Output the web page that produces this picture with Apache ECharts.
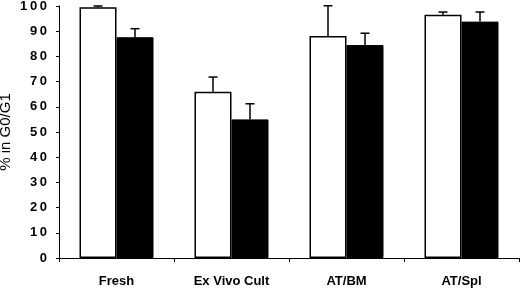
<!DOCTYPE html>
<html>
<head>
<meta charset="utf-8">
<script src="https://cdn.jsdelivr.net/npm/echarts@6/dist/echarts.min.js"></script>
<style>
  html, body { margin: 0; padding: 0; background: #fff; }
  #chart { width: 520px; height: 289px; }
</style>
</head>
<body>
<div id="chart"></div>
<script>
const categories = ['Fresh', 'Ex Vivo Cult', 'AT/BM', 'AT/Spl']
const openValues = [99.5, 66.0, 88.1, 96.5]
const openErrors = [0.5, 5.8, 12.0, 1.1]
const filledValues = [87.6, 55.0, 84.5, 93.8]
const filledErrors = [3.4, 6.2, 4.7, 3.8]
const yTicks = [0, 10, 20, 30, 40, 50, 60, 70, 80, 90, 100]

const barWidth = 37
const fontFam = 'Liberation Sans, Arial, sans-serif'

// error bar (upward only) drawn through the axis scales
function errorSeries(values, errors, side) {
  return {
    type: 'custom',
    z: 5,
    data: values.map((v, i) => [i, v, v + errors[i]]),
    renderItem(params, api) {
      const off = side * barWidth / 2
      const base = api.coord([api.value(0), api.value(1)])
      const top = api.coord([api.value(0), api.value(2)])
      const x = base[0] + off
      const style = { stroke: '#000', lineWidth: 1.5 }
      return {
        type: 'group',
        children: [
          { type: 'line', shape: { x1: x, y1: base[1], x2: x, y2: top[1] }, style },
          { type: 'line', shape: { x1: x - 4.5, y1: top[1], x2: x + 4.5, y2: top[1] }, style }
        ]
      }
    }
  }
}

const chart = echarts.init(document.getElementById('chart'))
chart.setOption({
  animation: false,
  grid: { left: 59, right: 1, top: 6, bottom: 31, outerBoundsMode: 'none', containLabel: false },
  xAxis: {
    type: 'category',
    data: categories,
    axisLine: { lineStyle: { color: '#000', width: 1 } },
    axisTick: { show: true, length: 4, lineStyle: { color: '#000' } },
    axisLabel: {
      color: '#000', fontWeight: 'bold', fontSize: 13, fontFamily: fontFam, margin: 17
    }
  },
  yAxis: {
    type: 'value',
    min: 0,
    max: 100,
    interval: 10,
    name: '% in G0/G1',
    nameLocation: 'middle',
    nameRotate: 90,
    nameGap: 46,
    nameMoveOverlap: false,
    nameTextStyle: { color: '#000', fontSize: 15, fontFamily: fontFam },
    axisLine: { show: true, lineStyle: { color: '#000', width: 1 } },
    axisTick: { show: true, length: 3, lineStyle: { color: '#000' } },
    splitLine: { show: false },
    axisLabel: {
      color: '#000', fontWeight: 'bold', fontSize: 13, fontFamily: fontFam, margin: 12,
      formatter: v => yTicks.includes(v) ? String(v).split('').join('\u2009') : ''
    }
  },
  series: [
    {
      type: 'bar',
      data: openValues,
      barWidth: barWidth,
      barGap: '0%',
      itemStyle: { color: '#fff', borderColor: '#000', borderWidth: 1.5 }
    },
    {
      type: 'bar',
      data: filledValues,
      barWidth: barWidth,
      barGap: '0%',
      itemStyle: { color: '#000', borderColor: '#000', borderWidth: 1 }
    },
    errorSeries(openValues, openErrors, -1),
    errorSeries(filledValues, filledErrors, 1)
  ]
})
</script>
</body>
</html>
